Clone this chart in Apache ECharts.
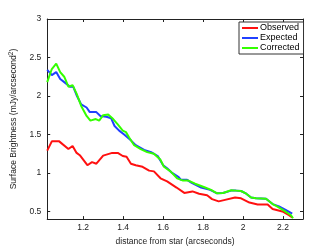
<!DOCTYPE html>
<html><head><meta charset="utf-8">
<script src="https://cdn.jsdelivr.net/npm/echarts@6/dist/echarts.min.js"></script>
<style>html,body{margin:0;padding:0;background:#fff}#c{width:335px;height:251px}</style>
</head><body><div id="c"></div>
<script>
const seriesNames = ['Observed', 'Expected', 'Corrected'];
const xObserved = [1.02,1.043,1.08,1.126,1.147,1.167,1.183,1.221,1.244,1.266,1.30,1.345,1.373,1.398,1.417,1.439,1.463,1.497,1.53,1.554,1.587,1.62,1.667,1.706,1.747,1.78,1.82,1.845,1.878,1.91,1.96,1.99,2.032,2.073,2.123,2.148,2.197,2.23,2.246];
const yObserved = [1.29,1.41,1.41,1.31,1.35,1.26,1.23,1.10,1.14,1.12,1.225,1.26,1.26,1.22,1.21,1.12,1.10,1.08,1.03,1.02,0.93,0.89,0.81,0.74,0.76,0.73,0.71,0.66,0.63,0.65,0.68,0.67,0.615,0.59,0.59,0.53,0.50,0.45,0.42];
const xExpected = [1.02,1.043,1.065,1.085,1.11,1.134,1.15,1.167,1.19,1.217,1.233,1.266,1.286,1.316,1.34,1.357,1.38,1.405,1.44,1.463,1.505,1.54,1.573,1.60,1.62,1.645,1.678,1.69,1.72,1.743,1.79,1.835,1.87,1.90,1.94,1.965,1.99,2.016,2.04,2.065,2.115,2.148,2.18,2.213,2.246];
const yExpected = [2.34,2.27,2.31,2.22,2.17,2.12,2.12,2.01,1.89,1.85,1.79,1.79,1.74,1.73,1.71,1.61,1.55,1.50,1.42,1.36,1.30,1.27,1.22,1.10,1.06,1.00,0.945,0.91,0.91,0.87,0.81,0.78,0.735,0.74,0.77,0.77,0.765,0.73,0.68,0.67,0.665,0.595,0.565,0.52,0.47];
const xCorrected = [1.02,1.043,1.065,1.085,1.105,1.126,1.147,1.167,1.19,1.217,1.236,1.263,1.28,1.30,1.325,1.35,1.373,1.398,1.414,1.43,1.455,1.488,1.52,1.554,1.587,1.604,1.637,1.67,1.678,1.70,1.727,1.76,1.81,1.84,1.87,1.90,1.94,1.965,1.99,2.016,2.04,2.065,2.115,2.148,2.17,2.205,2.24,2.25];
const yCorrected = [2.18,2.35,2.42,2.31,2.25,2.12,2.14,2.03,1.87,1.74,1.68,1.70,1.68,1.75,1.76,1.70,1.63,1.55,1.53,1.46,1.36,1.31,1.27,1.25,1.17,1.08,1.02,0.93,0.91,0.90,0.90,0.86,0.81,0.78,0.735,0.74,0.775,0.77,0.765,0.73,0.68,0.67,0.665,0.595,0.565,0.51,0.45,0.41];
const xTicks = [1.2,1.4,1.6,1.8,2,2.2];
const yTicks = [0.5,1,1.5,2,2.5,3];
const colors = ['#ff1010','#2040ff','#33ff00'];

const zip = (xs, ys) => xs.map((x, i) => [x, ys[i]]);
const font = 'Liberation Sans, Arial, sans-serif';
const axisLine = {show: true, lineStyle: {color: '#222', width: 1}};
const chart = echarts.init(document.getElementById('c'), null, {renderer: 'canvas'});
const xBase = {type: 'value', min: 1.02, max: 2.3, axisLine, splitLine: {show: false}};
const yBase = {type: 'value', min: 0.4, max: 3, axisLine, splitLine: {show: false}};
chart.setOption({
  animation: false,
  backgroundColor: '#fff',
  grid: {left: 43, top: 19, right: 32, bottom: 28},
  legend: {
    orient: 'vertical', left: 239, top: 22,
    data: seriesNames, icon: 'rect', itemWidth: 16, itemHeight: 2, itemGap: 0,
    backgroundColor: '#fff', borderColor: '#333', borderWidth: 1, borderRadius: 0,
    padding: [1, 4, 1, 3],
    textStyle: {fontFamily: font, fontSize: 9, lineHeight: 10, color: '#000', padding: [0, 0, 0, -3]}
  },
  xAxis: [
    Object.assign({}, xBase, {
      position: 'bottom',
      name: 'distance from star (arcseconds)', nameLocation: 'middle', nameGap: 12,
      nameTextStyle: {fontFamily: font, fontSize: 8.5, color: '#222'},
      axisTick: {inside: true, length: 3, customValues: xTicks, lineStyle: {color: '#222'}},
      axisLabel: {customValues: xTicks, fontFamily: font, fontSize: 8.5, color: '#222', margin: 4}
    }),
    Object.assign({}, xBase, {
      position: 'top',
      axisTick: {inside: true, length: 3, customValues: xTicks, lineStyle: {color: '#222'}},
      axisLabel: {show: false}
    })
  ],
  yAxis: [
    Object.assign({}, yBase, {
      position: 'left',
      name: 'Surface Brightness (mJy/arcsecond{s|2})', nameLocation: 'middle', nameGap: 22,
      nameTextStyle: {fontFamily: font, fontSize: 8.5, color: '#222', rich: {s: {fontSize: 6.5, verticalAlign: 'top', padding: [0,0,5,0], fontFamily: font, color: '#222'}}},
      axisTick: {inside: true, length: 3, customValues: yTicks, lineStyle: {color: '#222'}},
      axisLabel: {customValues: yTicks, fontFamily: font, fontSize: 8.5, color: '#222', margin: 6}
    }),
    Object.assign({}, yBase, {
      position: 'right',
      axisTick: {inside: true, length: 3, customValues: yTicks, lineStyle: {color: '#222'}},
      axisLabel: {show: false}
    })
  ],
  series: [
    {name: seriesNames[0], data: zip(xObserved, yObserved)},
    {name: seriesNames[1], data: zip(xExpected, yExpected)},
    {name: seriesNames[2], data: zip(xCorrected, yCorrected)}
  ].map((s, i) => Object.assign(s, {
    type: 'line', showSymbol: false, symbol: 'none',
    lineStyle: {color: colors[i], width: 2}, itemStyle: {color: colors[i]},
    clip: true
  }))
});
</script></body></html>
